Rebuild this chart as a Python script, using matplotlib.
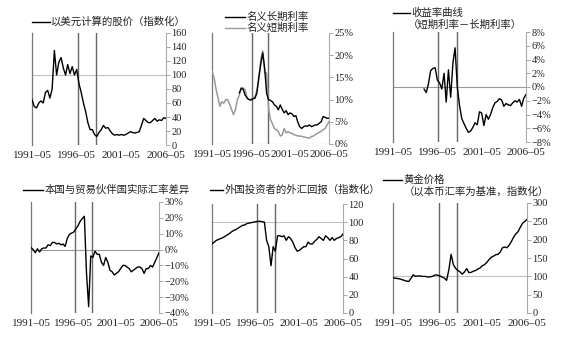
import matplotlib
matplotlib.use('Agg')
import matplotlib.pyplot as plt
from matplotlib.lines import Line2D
import numpy as np
import pandas as pd

plt.rcParams['font.family'] = ['Liberation Serif', 'Noto Sans CJK SC', 'DejaVu Sans']

# quarterly observations, 1991-05 .. 2006-05
dates = pd.date_range('1991-05-01', '2006-05-01', freq='3MS')
tick_dates = pd.to_datetime(['1991-05-01', '1996-05-01', '2001-05-01', '2006-05-01'])
tick_labels = ['1991–05', '1996–05', '2001–05', '2006–05']
crisis = pd.to_datetime(['1996-06-15', '1998-07-01'])

stock_usd = [65, 55, 53, 60, 63, 60, 75, 78, 67, 80,
             135, 100, 118, 125, 110, 100, 115, 102, 112, 100,
             108, 88, 75, 60, 48, 32, 22, 22, 15, 12,
             18, 22, 28, 24, 25, 20, 16, 14, 15, 14,
             15, 14, 15, 17, 19, 18, 17, 18, 19, 28,
             38, 35, 32, 32, 35, 38, 34, 36, 35, 39, 38]

short_rate = [16.5, 15, 12.5, 10.5, 8.5, 9.5, 9.2, 10, 10, 9,
              7.8, 6.6, 7.7, 10, 11, 12.6, 12.6, 12.2, 10.2, 10,
              10, 10.5, 10.5, 12.2, 14.5, 19, 21, 16, 16, 8,
              5.5, 4.5, 3.5, 3.2, 2.8, 1.8, 2, 3.5, 2.5, 2.8,
              2.5, 2.4, 2.1, 2, 1.8, 1.8, 1.7, 1.6, 1.5, 1.4,
              1.3, 1.7, 1.8, 2.1, 2.4, 2.6, 2.9, 3.2, 3.5, 4.3, 5.0]

long_rate = [np.nan] * 14 + [
             11.5, 12.6, 12.3, 11, 10.4, 10, 9.9, 10.2, 10.3, 11.5,
             15, 18, 20.5, 17, 11.4, 10, 9.8, 9.5, 8.8, 8.5,
             7.7, 8.8, 7.8, 7, 7.5, 6.6, 7, 6.8, 6.2, 6.4,
             4.9, 3.9, 3.5, 3.9, 4.1, 4, 4.3, 3.9, 4.1, 4.3,
             4.3, 4.7, 5, 6.2, 6, 5.8, 5.8]

yield_curve = [np.nan] * 14 + [
               -0.3, -0.8, 0.5, 2.4, 2.7, 2.8, 1.0, 0.6, -0.3, 2.0,
               -2.2, 2.5, -1.5, 3.5, 5.7, 0, -2.7, -4.6, -5.3, -6.0,
               -6.6, -6.4, -5.9, -5.2, -5.5, -3.6, -3.8, -5.6, -4.0, -4.7,
               -4.0, -3.0, -2.3, -2.1, -1.7, -1.9, -2.8, -2.4, -2.6, -2.7,
               -2.3, -2.0, -2.2, -1.8, -2.8, -1.6, -1.1]

real_fx_gap = [1.3, 0, -2, 0.5, -1.5, 0.5, 1, 1, 3, 2.5,
               4.5, 4.5, 3.5, 4, 3, 3.5, 2, 7, 9.5, 10.4,
               11, 13, 15, 17.8, 19.5, 21, -15, -36, -4, -5,
               -1, -3, -3, -8, -10, -5, -8, -13, -14, -16,
               -15, -14, -12, -10, -10, -11, -12, -14, -13, -12,
               -11, -11, -12, -15, -12, -12, -10, -11, -8, -5, -2]

fx_return = [76, 78, 80, 81, 82, 83, 84.5, 86, 87.5, 89.5,
             91, 92, 93.5, 95, 96.5, 97, 98.5, 99, 99.5, 100,
             100.5, 101, 101, 100.5, 100, 80, 73, 52, 73, 68,
             85, 85, 84, 85, 80, 84, 82, 78, 72, 68,
             69, 71, 73, 73, 78, 76, 76, 79, 81, 84,
             82, 80, 85, 83, 80, 83, 80, 82, 83, 84, 87]

gold = [96, 95, 94, 93, 91, 89, 87, 86, 94, 104,
        100, 101, 101, 100, 100, 99, 98, 99, 101, 104,
        103, 101, 98, 95, 89, 118, 160, 132, 122, 116,
        112, 106, 112, 121, 110, 111, 114, 116, 120, 123,
        129, 132, 138, 146, 152, 155, 159, 160, 166, 178,
        180, 178, 185, 195, 207, 216, 222, 234, 245, 250, 255]

W, H = 566, 338
fig = plt.figure(figsize=(W / 100, H / 100), dpi=100)


def px_axes(x0, x1, ytop, ybot):
    return fig.add_axes([x0 / W, 1 - ybot / H, (x1 - x0) / W, (ybot - ytop) / H])


def setup(ax, lo, hi, step, fmt, ref=None):
    ax.set_xlim(dates[0], dates[-1])
    ax.set_ylim(lo, hi)
    ticks = np.arange(lo, hi + step / 2, step)
    ax.yaxis.tick_right()
    ax.set_yticks(ticks)
    ax.set_yticklabels([fmt(v) for v in ticks])
    ax.spines['top'].set_visible(False)
    ax.spines['bottom'].set_visible(False)
    ax.spines['left'].set_color('#777777')
    ax.spines['right'].set_color('#aaaaaa')
    ax.spines['left'].set_linewidth(0.9)
    ax.spines['right'].set_linewidth(0.8)
    ax.tick_params(axis='y', direction='out', length=3, width=0.6, color='#999999',
                   labelsize=7.5, labelcolor='#222222', pad=1)
    ax.set_xticks(tick_dates)
    ax.set_xticklabels(tick_labels)
    ax.tick_params(axis='x', length=0, labelsize=8, labelcolor='#222222', pad=4)
    ax.axhline(0, color='#999999', lw=0.8, zorder=1)
    if ref is not None:
        ax.axhline(ref, color='#c0c0c0', lw=0.8, zorder=1)
    for d in crisis:
        ax.axvline(d, color='#666666', lw=1.0, zorder=1)


def key(x0, x1, y, text, color='black', text2=None, dx2=0):
    fig.add_artist(Line2D([x0 / W, x1 / W], [1 - y / H, 1 - y / H], color=color, lw=1.0))
    fig.text(x1 / W + 0.002, 1 - y / H, text, fontsize=7.5, va='center', ha='left', color='#222222')
    if text2:
        fig.text((x1 + dx2) / W, 1 - (y + 11.5) / H, text2, fontsize=7.5, va='center',
                 ha='left', color='#222222')


num = lambda v: f'{v:g}'
pct = lambda v: f'{v:g}%'.replace('-', '−')

ax1 = px_axes(32, 166, 33, 145)
setup(ax1, 0, 160, 20, num, ref=100)
ax1.plot(dates, stock_usd, color='black', lw=1.0, zorder=3)
key(32, 50, 22, '以美元计算的股价（指数化）')

ax2 = px_axes(212, 329, 33, 144)
setup(ax2, 0, 25, 5, pct)
ax2.plot(dates, short_rate, color='#999999', lw=1.1, zorder=3)
ax2.plot(dates, long_rate, color='black', lw=1.0, zorder=4)
key(225, 245, 17, '名义长期利率')
key(225, 245, 28, '名义短期利率', color='#999999')

ax3 = px_axes(393, 526, 32, 142)
setup(ax3, -8, 8, 2, pct)
ax3.plot(dates, yield_curve, color='black', lw=1.0, zorder=3)
key(393, 410, 13, '收益率曲线', text2='（短期利率－长期利率）', dx2=-2)

ax4 = px_axes(31, 159, 202, 313)
setup(ax4, -40, 30, 10, pct)
ax4.plot(dates, real_fx_gap, color='black', lw=1.0, zorder=3)
key(23, 43, 190, '本国与贸易伙伴国实际汇率差异')

ax5 = px_axes(212, 343, 204, 313)
setup(ax5, 0, 120, 20, num, ref=100)
ax5.plot(dates, fx_return, color='black', lw=1.0, zorder=3)
key(210, 223, 190, '外国投资者的外汇回报（指数化）')

ax6 = px_axes(393, 527, 203, 313)
setup(ax6, 0, 300, 50, num, ref=100)
ax6.plot(dates, gold, color='black', lw=1.0, zorder=3)
key(383, 402, 180, '黄金价格', text2='（以本币汇率为基准，指数化）', dx2=2)

fig.savefig('out.png', dpi=100, facecolor='white')
